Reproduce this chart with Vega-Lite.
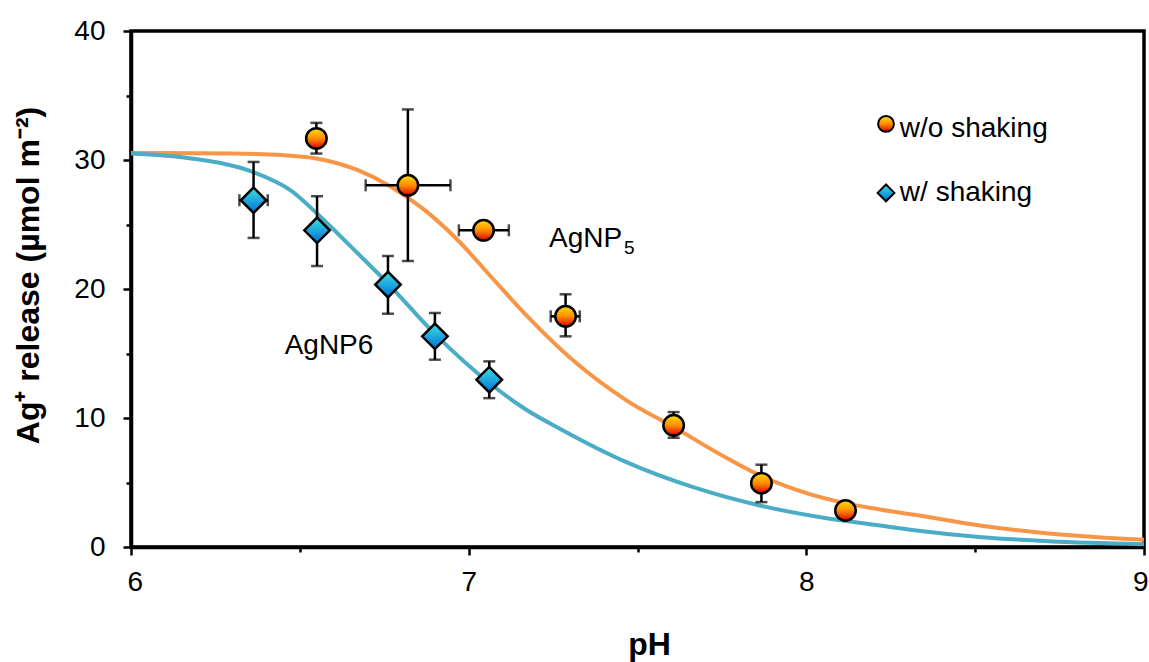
{
  "$schema": "https://vega.github.io/schema/vega-lite/v6.json",
  "width": 1013,
  "height": 516,
  "autosize": {"type": "none"},
  "padding": {"left": 131, "top": 31, "right": 5, "bottom": 115},
  "background": "white",
  "config": {
    "view": {"stroke": "black", "strokeWidth": 3.5},
    "font": "Liberation Sans"
  },
  "datasets": {
    "curves": [
      {"series": "w/o shaking", "pH": 6.0, "val": 30.55},
      {"series": "w/o shaking", "pH": 6.3, "val": 30.5},
      {"series": "w/o shaking", "pH": 6.45, "val": 30.38},
      {"series": "w/o shaking", "pH": 6.549, "val": 30.12},
      {"series": "w/o shaking", "pH": 6.672, "val": 29.21},
      {"series": "w/o shaking", "pH": 6.771, "val": 27.91},
      {"series": "w/o shaking", "pH": 6.87, "val": 26.11},
      {"series": "w/o shaking", "pH": 6.968, "val": 23.78},
      {"series": "w/o shaking", "pH": 7.067, "val": 20.93},
      {"series": "w/o shaking", "pH": 7.166, "val": 18.09},
      {"series": "w/o shaking", "pH": 7.309, "val": 14.47},
      {"series": "w/o shaking", "pH": 7.467, "val": 11.37},
      {"series": "w/o shaking", "pH": 7.607, "val": 9.3},
      {"series": "w/o shaking", "pH": 7.764, "val": 6.9},
      {"series": "w/o shaking", "pH": 7.867, "val": 5.5},
      {"series": "w/o shaking", "pH": 8.01, "val": 4.1},
      {"series": "w/o shaking", "pH": 8.116, "val": 3.4},
      {"series": "w/o shaking", "pH": 8.218, "val": 2.91},
      {"series": "w/o shaking", "pH": 8.32, "val": 2.5},
      {"series": "w/o shaking", "pH": 8.519, "val": 1.65},
      {"series": "w/o shaking", "pH": 8.718, "val": 1.05},
      {"series": "w/o shaking", "pH": 9.0, "val": 0.56},
      {"series": "w/ shaking", "pH": 6.0, "val": 30.5},
      {"series": "w/ shaking", "pH": 6.178, "val": 30.12},
      {"series": "w/ shaking", "pH": 6.36, "val": 29.08},
      {"series": "w/ shaking", "pH": 6.475, "val": 27.6},
      {"series": "w/ shaking", "pH": 6.553, "val": 25.8},
      {"series": "w/ shaking", "pH": 6.672, "val": 22.75},
      {"series": "w/ shaking", "pH": 6.761, "val": 20.42},
      {"series": "w/ shaking", "pH": 6.899, "val": 16.54},
      {"series": "w/ shaking", "pH": 7.067, "val": 12.6},
      {"series": "w/ shaking", "pH": 7.166, "val": 10.72},
      {"series": "w/ shaking", "pH": 7.27, "val": 9.17},
      {"series": "w/ shaking", "pH": 7.467, "val": 6.58},
      {"series": "w/ shaking", "pH": 7.665, "val": 4.64},
      {"series": "w/ shaking", "pH": 7.862, "val": 3.22},
      {"series": "w/ shaking", "pH": 8.06, "val": 2.23},
      {"series": "w/ shaking", "pH": 8.218, "val": 1.67},
      {"series": "w/ shaking", "pH": 8.32, "val": 1.3},
      {"series": "w/ shaking", "pH": 8.519, "val": 0.76},
      {"series": "w/ shaking", "pH": 8.718, "val": 0.45},
      {"series": "w/ shaking", "pH": 9.0, "val": 0.22}
    ],
    "pts": [
      {"series": "w/o shaking", "pH": 6.549, "val": 31.67, "ylo": 30.5, "yhi": 32.88, "xlo": null, "xhi": null},
      {"series": "w/o shaking", "pH": 6.82, "val": 28.04, "ylo": 22.17, "yhi": 33.92, "xlo": 6.695, "xhi": 6.946},
      {"series": "w/o shaking", "pH": 7.044, "val": 24.55, "ylo": null, "yhi": null, "xlo": 6.971, "xhi": 7.119},
      {"series": "w/o shaking", "pH": 7.287, "val": 17.88, "ylo": 16.33, "yhi": 19.59, "xlo": 7.243, "xhi": 7.329},
      {"series": "w/o shaking", "pH": 7.607, "val": 9.43, "ylo": 8.47, "yhi": 10.46, "xlo": null, "xhi": null},
      {"series": "w/o shaking", "pH": 7.867, "val": 4.95, "ylo": 3.48, "yhi": 6.38, "xlo": null, "xhi": null},
      {"series": "w/o shaking", "pH": 8.116, "val": 2.83, "ylo": null, "yhi": null, "xlo": null, "xhi": null},
      {"series": "w/ shaking", "pH": 6.363, "val": 26.88, "ylo": 23.96, "yhi": 29.85, "xlo": 6.321, "xhi": 6.405},
      {"series": "w/ shaking", "pH": 6.551, "val": 24.55, "ylo": 21.78, "yhi": 27.19, "xlo": null, "xhi": null},
      {"series": "w/ shaking", "pH": 6.761, "val": 20.34, "ylo": 18.09, "yhi": 22.56, "xlo": null, "xhi": null},
      {"series": "w/ shaking", "pH": 6.9, "val": 16.33, "ylo": 14.52, "yhi": 18.14, "xlo": null, "xhi": null},
      {"series": "w/ shaking", "pH": 7.061, "val": 12.97, "ylo": 11.54, "yhi": 14.39, "xlo": null, "xhi": null}
    ]
  },
  "layer": [
    {
      "data": {"name": "curves"},
      "mark": {"type": "line", "interpolate": "monotone", "strokeWidth": 4},
      "encoding": {
        "x": {
          "field": "pH", "type": "quantitative", "title": "pH",
          "scale": {"domain": [6, 9], "nice": false, "zero": false},
          "axis": {
            "title": "pH",
            "values": [6, 6.5, 7, 7.5, 8, 8.5, 9],
            "labelExpr": "datum.value % 1 === 0 ? format(datum.value, 'd') : ''",
            "tickSize": {"condition": {"test": "datum.value % 1 !== 0", "value": 5}, "value": 8},
            "grid": false,
            "labelFont": "Liberation Sans", "labelFontSize": 28, "labelColor": "black",
            "labelPadding": 13, "labelFlush": true, "labelFlushOffset": 4, "labelOverlap": false,
            "tickColor": "black", "tickWidth": 2.5,
            "domainColor": "black", "domainWidth": 3.5,
            "titleFont": "Liberation Sans", "titleFontSize": 32, "titleFontWeight": "bold", "titleColor": "black",
            "titleX": 518, "titleY": 107, "titleBaseline": "alphabetic", "titleAlign": "center"
          }
        },
        "y": {
          "field": "val", "type": "quantitative", "title": "Ag⁺ release (µmol m⁻²)",
          "scale": {"domain": [0, 40], "nice": false},
          "axis": {
            "title": "Ag⁺ release (µmol m⁻²)",
            "values": [0, 5, 10, 15, 20, 25, 30, 35, 40],
            "labelExpr": "datum.value % 10 === 0 ? format(datum.value, 'd') : ''",
            "tickSize": {"condition": {"test": "datum.value % 10 !== 0", "value": 5}, "value": 8},
            "grid": false,
            "labelFont": "Liberation Sans", "labelFontSize": 28, "labelColor": "black",
            "labelPadding": 18, "labelFlush": false, "labelOverlap": false,
            "tickColor": "black", "tickWidth": 2.5,
            "domainColor": "black", "domainWidth": 3.5,
            "titleFont": "Liberation Sans", "titleFontSize": 32, "titleFontWeight": "bold", "titleColor": "black",
            "titleX": -93, "titleY": 244, "titleBaseline": "alphabetic", "titleAlign": "center", "titleAngle": -90
          }
        },
        "stroke": {
          "field": "series", "type": "nominal",
          "scale": {"domain": ["w/o shaking", "w/ shaking"], "range": ["#F79646", "#4BACC6"]},
          "legend": null
        }
      }
    },
    {
      "data": {"name": "pts"},
      "transform": [{"filter": "datum.ylo != null"}],
      "mark": {"type": "errorbar", "color": "black", "thickness": 2.5, "ticks": {"size": 12, "thickness": 2.5, "color": "black"}},
      "encoding": {
        "x": {"field": "pH", "type": "quantitative", "title": "pH"},
        "y": {"field": "ylo", "type": "quantitative", "title": "Ag⁺ release (µmol m⁻²)"},
        "y2": {"field": "yhi"}
      }
    },
    {
      "data": {"name": "pts"},
      "transform": [{"filter": "datum.xlo != null"}],
      "mark": {"type": "errorbar", "color": "black", "thickness": 2.5, "ticks": {"size": 12, "thickness": 2.5, "color": "black"}},
      "encoding": {
        "x": {"field": "xlo", "type": "quantitative", "title": "pH"},
        "x2": {"field": "xhi"},
        "y": {"field": "val", "type": "quantitative", "title": "Ag⁺ release (µmol m⁻²)"}
      }
    },
    {
      "data": {"name": "pts"},
      "mark": {"type": "point", "filled": true, "stroke": "black", "strokeWidth": 2.5, "opacity": 1},
      "encoding": {
        "x": {"field": "pH", "type": "quantitative", "title": "pH"},
        "y": {"field": "val", "type": "quantitative", "title": "Ag⁺ release (µmol m⁻²)"},
        "shape": {
          "field": "series", "type": "nominal",
          "scale": {"domain": ["w/o shaking", "w/ shaking"], "range": ["circle", "diamond"]},
          "legend": null
        },
        "fill": {
          "condition": {
            "test": "datum.series === 'w/o shaking'",
            "value": {"gradient": "linear", "x1": 0, "y1": 0, "x2": 0, "y2": 1,
                      "stops": [{"offset": 0, "color": "#FFE000"}, {"offset": 0.5, "color": "#FF8C00"}, {"offset": 1, "color": "#E00000"}]}
          },
          "value": {"gradient": "linear", "x1": 0, "y1": 0, "x2": 0, "y2": 1,
                    "stops": [{"offset": 0, "color": "#3CE0E0"}, {"offset": 1, "color": "#0070D8"}]}
        },
        "size": {"condition": {"test": "datum.series === 'w/ shaking'", "value": 650}, "value": 420}
      }
    },
    {
      "data": {"values": [{}]},
      "mark": {"type": "point", "shape": "circle", "filled": true, "size": 250, "stroke": "black", "strokeWidth": 2, "opacity": 1,
               "fill": {"gradient": "linear", "x1": 0, "y1": 0, "x2": 0, "y2": 1,
                        "stops": [{"offset": 0, "color": "#FFE000"}, {"offset": 0.5, "color": "#FF8C00"}, {"offset": 1, "color": "#E00000"}]}},
      "encoding": {
        "x": {"datum": 8.236, "type": "quantitative", "title": "pH"},
        "y": {"datum": 32.8, "type": "quantitative", "title": "Ag⁺ release (µmol m⁻²)"}
      }
    },
    {
      "data": {"values": [{}]},
      "mark": {"type": "point", "shape": "diamond", "filled": true, "size": 280, "stroke": "black", "strokeWidth": 2, "opacity": 1,
               "fill": {"gradient": "linear", "x1": 0, "y1": 0, "x2": 0, "y2": 1,
                        "stops": [{"offset": 0, "color": "#3CE0E0"}, {"offset": 1, "color": "#0070D8"}]}},
      "encoding": {
        "x": {"datum": 8.236, "type": "quantitative", "title": "pH"},
        "y": {"datum": 27.45, "type": "quantitative", "title": "Ag⁺ release (µmol m⁻²)"}
      }
    },
    {
      "data": {"values": [{}]},
      "mark": {"type": "text", "text": "w/o shaking", "align": "left", "baseline": "alphabetic", "font": "Liberation Sans", "fontSize": 28, "color": "black"},
      "encoding": {
        "x": {"datum": 8.277, "type": "quantitative", "title": "pH"},
        "y": {"datum": 31.78, "type": "quantitative", "title": "Ag⁺ release (µmol m⁻²)"}
      }
    },
    {
      "data": {"values": [{}]},
      "mark": {"type": "text", "text": "w/ shaking", "align": "left", "baseline": "alphabetic", "font": "Liberation Sans", "fontSize": 28, "color": "black"},
      "encoding": {
        "x": {"datum": 8.277, "type": "quantitative", "title": "pH"},
        "y": {"datum": 26.82, "type": "quantitative", "title": "Ag⁺ release (µmol m⁻²)"}
      }
    },
    {
      "data": {"values": [{}]},
      "mark": {"type": "text", "text": "AgNP", "align": "left", "baseline": "alphabetic", "font": "Liberation Sans", "fontSize": 28, "color": "black"},
      "encoding": {
        "x": {"datum": 7.238, "type": "quantitative", "title": "pH"},
        "y": {"datum": 23.26, "type": "quantitative", "title": "Ag⁺ release (µmol m⁻²)"}
      }
    },
    {
      "data": {"values": [{}]},
      "mark": {"type": "text", "text": "5", "align": "left", "baseline": "alphabetic", "font": "Liberation Sans", "fontSize": 19, "color": "black", "dx": 75, "dy": 6.6},
      "encoding": {
        "x": {"datum": 7.238, "type": "quantitative", "title": "pH"},
        "y": {"datum": 23.26, "type": "quantitative", "title": "Ag⁺ release (µmol m⁻²)"}
      }
    },
    {
      "data": {"values": [{}]},
      "mark": {"type": "text", "text": "AgNP6", "align": "left", "baseline": "alphabetic", "font": "Liberation Sans", "fontSize": 28, "color": "black"},
      "encoding": {
        "x": {"datum": 6.455, "type": "quantitative", "title": "pH"},
        "y": {"datum": 15.0, "type": "quantitative", "title": "Ag⁺ release (µmol m⁻²)"}
      }
    }
  ]
}
